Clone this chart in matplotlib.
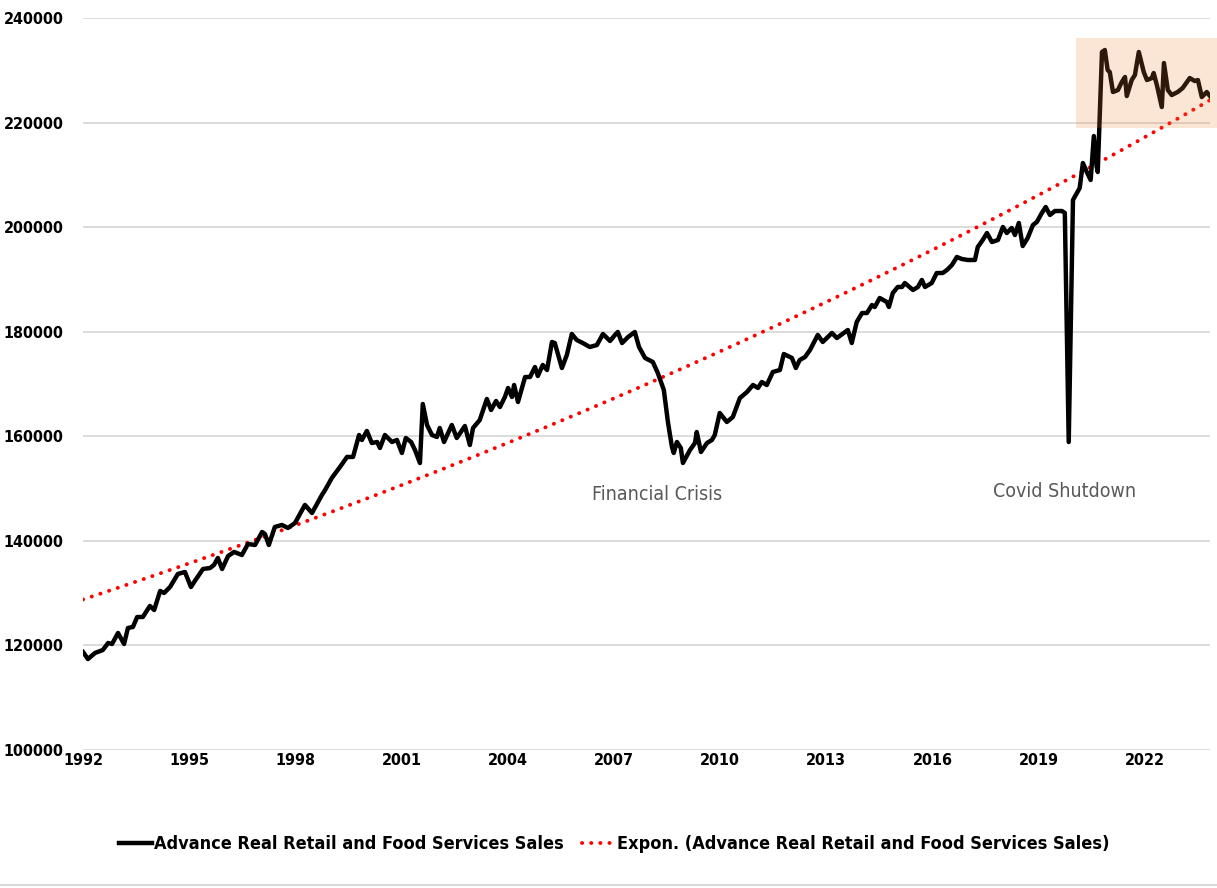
import numpy as np
import matplotlib
matplotlib.use("Agg")
import matplotlib.pyplot as plt
from matplotlib.patches import Rectangle
from matplotlib.lines import Line2D

# narrow bold look of the original workbook font
plt.rcParams["font.family"] = ["DejaVu Sans"]
plt.rcParams["font.stretch"] = "condensed"

# monthly-ish readings of the series (decimal year, real sales)
years = [
    1992.00, 1992.14, 1992.34, 1992.56, 1992.71, 1992.82, 1992.99, 1993.16, 1993.27, 1993.41,
    1993.53, 1993.69, 1993.89, 1994.01, 1994.18, 1994.29, 1994.46, 1994.68, 1994.88, 1995.05,
    1995.16, 1995.39, 1995.59, 1995.70, 1995.81, 1995.93, 1996.10, 1996.27, 1996.49, 1996.66,
    1996.86, 1997.06, 1997.14, 1997.25, 1997.42, 1997.62, 1997.79, 1997.99, 1998.27, 1998.47,
    1998.75, 1998.84, 1999.03, 1999.26, 1999.46, 1999.63, 1999.80, 1999.88, 2000.02, 2000.16,
    2000.31, 2000.39, 2000.53, 2000.73, 2000.87, 2001.01, 2001.12, 2001.27, 2001.38, 2001.52,
    2001.60, 2001.72, 2001.86, 2002.00, 2002.08, 2002.20, 2002.42, 2002.56, 2002.79, 2002.93,
    2003.02, 2003.21, 2003.41, 2003.53, 2003.67, 2003.78, 2003.92, 2004.01, 2004.12, 2004.18,
    2004.29, 2004.49, 2004.63, 2004.77, 2004.85, 2004.99, 2005.11, 2005.25, 2005.33, 2005.53,
    2005.67, 2005.81, 2005.95, 2006.12, 2006.32, 2006.52, 2006.69, 2006.89, 2007.03, 2007.11,
    2007.23, 2007.40, 2007.59, 2007.71, 2007.88, 2008.10, 2008.24, 2008.41, 2008.53, 2008.64,
    2008.69, 2008.78, 2008.89, 2008.95, 2009.15, 2009.29, 2009.34, 2009.46, 2009.63, 2009.77,
    2009.85, 2009.99, 2010.19, 2010.36, 2010.56, 2010.76, 2010.93, 2011.07, 2011.18, 2011.32,
    2011.49, 2011.69, 2011.80, 2012.03, 2012.14, 2012.25, 2012.40, 2012.54, 2012.76, 2012.90,
    2013.16, 2013.30, 2013.53, 2013.61, 2013.72, 2013.86, 2014.01, 2014.15, 2014.29, 2014.37,
    2014.51, 2014.71, 2014.77, 2014.88, 2015.02, 2015.14, 2015.22, 2015.45, 2015.59, 2015.70,
    2015.79, 2015.98, 2016.12, 2016.29, 2016.41, 2016.55, 2016.69, 2016.83, 2017.00, 2017.20,
    2017.28, 2017.42, 2017.54, 2017.68, 2017.85, 2017.99, 2018.10, 2018.24, 2018.33, 2018.44,
    2018.55, 2018.69, 2018.84, 2018.95, 2019.09, 2019.20, 2019.32, 2019.46, 2019.66, 2019.74,
    2019.85, 2019.97, 2020.16, 2020.25, 2020.36, 2020.47, 2020.56, 2020.64, 2020.67, 2020.79,
    2020.87, 2020.95, 2021.01, 2021.10, 2021.24, 2021.35, 2021.44, 2021.49, 2021.63, 2021.72,
    2021.83, 2021.97, 2022.06, 2022.20, 2022.25, 2022.34, 2022.48, 2022.54, 2022.65, 2022.76,
    2022.93, 2023.07, 2023.27, 2023.41, 2023.50, 2023.61, 2023.75, 2023.84,
]
sales = [
    118750, 117400, 118560, 119130, 120470, 120280, 122380, 120280, 123340, 123530,
    125440, 125440, 127550, 126780, 130420, 130030, 131180, 133670, 134050, 131180,
    132330, 134620, 134810, 135390, 136730, 134620, 137110, 137880, 137300, 139400,
    139210, 141700, 141320, 139210, 142660, 143040, 142470, 143420, 146870, 145330,
    148780, 149730, 152030, 154130, 156050, 156050, 160250, 159300, 161020, 158720,
    158910, 157770, 160250, 158910, 159300, 156810, 159680, 158910, 157380, 154890,
    166180, 162160, 160250, 159870, 161590, 158910, 162160, 159680, 161970, 158340,
    161590, 163120, 167140, 165030, 166750, 165600, 167520, 169240, 167520, 169810,
    166560, 171340, 171340, 173250, 171530, 173640, 172680, 178040, 177840, 173060,
    175550, 179570, 178420, 177840, 177080, 177460, 179570, 178230, 179380, 179950,
    177840, 178990, 179950, 177080, 174980, 174210, 172110, 168860, 162550, 157960,
    156810, 158910, 157770, 154890, 157380, 158720, 160820, 157000, 158720, 159300,
    160250, 164460, 162740, 163690, 167330, 168470, 169810, 169240, 170390, 169810,
    172300, 172680, 175740, 174980, 173060, 174590, 175170, 176510, 179380, 178040,
    179760, 178800, 179950, 180330, 177840, 181860, 183580, 183580, 185110, 184730,
    186450, 185690, 184730, 187410, 188560, 188560, 189320, 187980, 188560, 189900,
    188560, 189320, 191230, 191230, 191810, 192760, 194290, 193910, 193720, 193720,
    196200, 197540, 198880, 197160, 197540, 200030, 198880, 199840, 198500, 200800,
    196390, 197930, 200420, 200990, 202710, 203860, 202330, 203090, 203090, 202710,
    158910, 205200, 207490, 212270, 210550, 209020, 217430, 211500, 210550, 233500,
    233880, 230060, 229670, 225850, 226230, 227760, 228720, 225080, 228140, 229100,
    233500, 229670, 228140, 228520, 229480, 227190, 222980, 231390, 226230, 225270,
    225850, 226620, 228520, 227950, 228140, 224890, 225850, 225080,
]

tick_years = [1992, 1995, 1998, 2001, 2004, 2007, 2010, 2013, 2016, 2019, 2022]
y_ticks = [100000, 120000, 140000, 160000, 180000, 200000, 220000, 240000]

# highlighted post-stimulus zone
zone_x = [2020.05, 2024.05]
zone_y = [219000, 236200]

series_name = "Advance Real Retail and Food Services Sales"

yrs = np.array(years)
vals = np.array(sales, dtype=float)

# exponential trendline, like Excel's "Expon."
b, a = np.polyfit(yrs - yrs[0], np.log(vals), 1)
trend = np.exp(a + b * (yrs - yrs[0]))

fig = plt.figure(figsize=(12.17, 8.88), dpi=100)
ax = fig.add_axes([0.0682, 0.1554, 0.9260, 0.8243])

ax.plot(yrs, vals, color="black", lw=3.2, solid_joinstyle="round",
        label=series_name, zorder=3)
ax.plot(yrs, trend, color="#FF0000", lw=2.8, linestyle=(0, (0.05, 2.3)),
        dash_capstyle="round", label="Expon. (" + series_name + ")", zorder=2)

ax.add_patch(Rectangle((zone_x[0], zone_y[0]), zone_x[1] - zone_x[0],
                       zone_y[1] - zone_y[0], facecolor="#ED7D31", alpha=0.2,
                       edgecolor="none", clip_on=False, zorder=4))

ax.text(2008.21, 148800, "Financial Crisis", ha="center", va="center",
        fontsize=14, color="#595959")
ax.text(2019.74, 149350, "Covid Shutdown", ha="center", va="center",
        fontsize=14, color="#595959")

ax.set_xlim(1992, 2023.84)
ax.set_ylim(100000, 240000)
ax.set_xticks(tick_years)
ax.set_xticklabels([str(t) for t in tick_years])
ax.set_yticks(y_ticks)
ax.set_yticklabels([str(t) for t in y_ticks])
ax.tick_params(length=0, labelsize=11.5)
ax.tick_params(axis="x", pad=2)
ax.tick_params(axis="y", pad=14)
for lab in ax.get_xticklabels() + ax.get_yticklabels():
    lab.set_fontweight("bold")
ax.grid(axis="y", color="#D9D9D9", lw=1.3)
ax.set_axisbelow(True)
for s in ax.spines.values():
    s.set_visible(False)

fig.legend(loc="center", bbox_to_anchor=(0.505, 0.049), ncol=2, frameon=False,
           prop={"size": 13, "weight": "bold"}, handlelength=1.8,
           handletextpad=0.15, columnspacing=1.0)

# faint border strip at the bottom of the exported picture
fig.add_artist(Line2D([0, 1], [0.003, 0.003], transform=fig.transFigure,
                      color="#D9D9D9", lw=1.5))

fig.savefig("out.png", dpi=100)
